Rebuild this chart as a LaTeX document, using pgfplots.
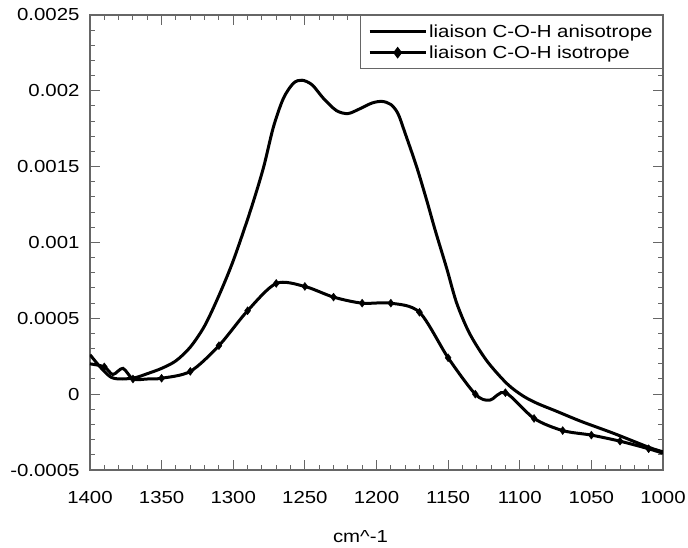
\documentclass[border=0pt]{standalone}
\usepackage{fontspec}
\setmainfont{Liberation Sans}[FakeStretch=1.17]
\usepackage{pgfplots}
\pgfplotsset{compat=1.18}
\pgfplotstableread{
x y
1400 0.00026
1392 0.00017
1385 0.00011
1377 0.00010
1368 0.00011
1360 0.000135
1350 0.00017
1340 0.00022
1330 0.00031
1320 0.00045
1310 0.00065
1300 0.00088
1288 0.00121
1279 0.00149
1272 0.00176
1265 0.00195
1258 0.00205
1252 0.00207
1245 0.00204
1237 0.00195
1228 0.00187
1220 0.00185
1212 0.00188
1203 0.00192
1196 0.00193
1190 0.00191
1185 0.00185
1180 0.00172
1172 0.00150
1165 0.00128
1159 0.00108
1151 0.00083
1144 0.00060
1135 0.00040
1123 0.00022
1109 0.00007
1098 -0.00001
1088 -0.00006
1075 -0.00011
1057 -0.00018
1034 -0.00026
1010 -0.00035
1000 -0.00038
}\aniso
\pgfplotstableread{
x y
1400 0.00020
1390 0.00018
1384 0.00013
1377 0.00017
1370 0.00010
1360 0.00010
1350 0.000105
1330 0.00015
1310 0.00032
1290 0.00055
1270 0.00073
1250 0.00071
1230 0.00064
1210 0.00060
1190 0.00060
1170 0.00054
1150 0.00024
1131 0.00000
1121 -0.00004
1110 0.00001
1090 -0.00016
1070 -0.00024
1050 -0.00027
1030 -0.00031
1010 -0.00036
1000 -0.00039
}\iso
\pgfplotstableread{
x y
1390 0.00018
1370 0.00010
1350 0.000105
1330 0.00015
1310 0.00032
1290 0.00055
1270 0.00073
1250 0.00071
1230 0.00064
1210 0.00060
1190 0.00060
1170 0.00054
1150 0.00024
1131 0.00000
1110 0.00001
1090 -0.00016
1070 -0.00024
1050 -0.00027
1030 -0.00031
1010 -0.00036
}\isomarks
\begin{document}
\begin{tikzpicture}
\path[use as bounding box] (-90bp,-78bp) rectangle (598bp,470bp);
\begin{axis}[
  at={(0,0)}, anchor=south west,
  scale only axis,
  width=573bp, height=455bp,
  x dir=reverse,
  xmin=1000, xmax=1400,
  ymin=-0.0005, ymax=0.0025,
  xtick={1000,1050,...,1400},
  xticklabels={1000,1050,1100,1150,1200,1250,1300,1350,1400},
  ytick={-0.0005,0,0.0005,0.001,0.0015,0.002,0.0025},
  yticklabels={-0.0005,0,0.0005,0.001,0.0015,0.002,0.0025},
  scaled y ticks=false, scaled x ticks=false,
  minor x tick num=4, minor y tick num=4,
  tick align=inside,
  major tick length=10bp, minor tick length=5bp,
  axis line style={draw=black!60, line width=1.2bp},
  every tick/.style={black!60, line width=1bp},
  tick label style={font=\fontsize{17.5}{21}\selectfont, black},
  xticklabel style={yshift=-18bp},
  yticklabel style={xshift=-7bp},
  xlabel={cm\textasciicircum-1},
  xlabel style={font=\fontsize{17.5}{21}\selectfont, at={(axis description cs:0.472,0)}, anchor=north, inner sep=0pt, yshift=-60bp},
  legend style={at={(1,1)}, anchor=north east, draw=black!60, line width=1bp,
    font=\fontsize{17.5}{21}\selectfont, inner xsep=8bp, inner ysep=7bp, row sep=3bp},
  legend cell align=left,
  legend image code/.code={\draw[mark repeat=2,mark phase=2,#1] plot coordinates {(0bp,0bp) (28bp,0bp) (56bp,0bp)};},
]
\addlegendimage{black, line width=3bp}
\addlegendentry{liaison C-O-H anisotrope}
\addlegendimage{black, line width=3bp, mark=diamond*, mark size=3.5bp, mark options={solid}}
\addlegendentry{liaison C-O-H isotrope}
\addplot[black, line width=3bp, smooth, forget plot] table[x=x,y=y] {\aniso};
\addplot[black, line width=3bp, smooth, forget plot] table[x=x,y=y] {\iso};
\addplot[black, only marks, mark=diamond*, mark size=4bp, forget plot] table[x=x,y=y] {\isomarks};
\end{axis}
\end{tikzpicture}
\end{document}
